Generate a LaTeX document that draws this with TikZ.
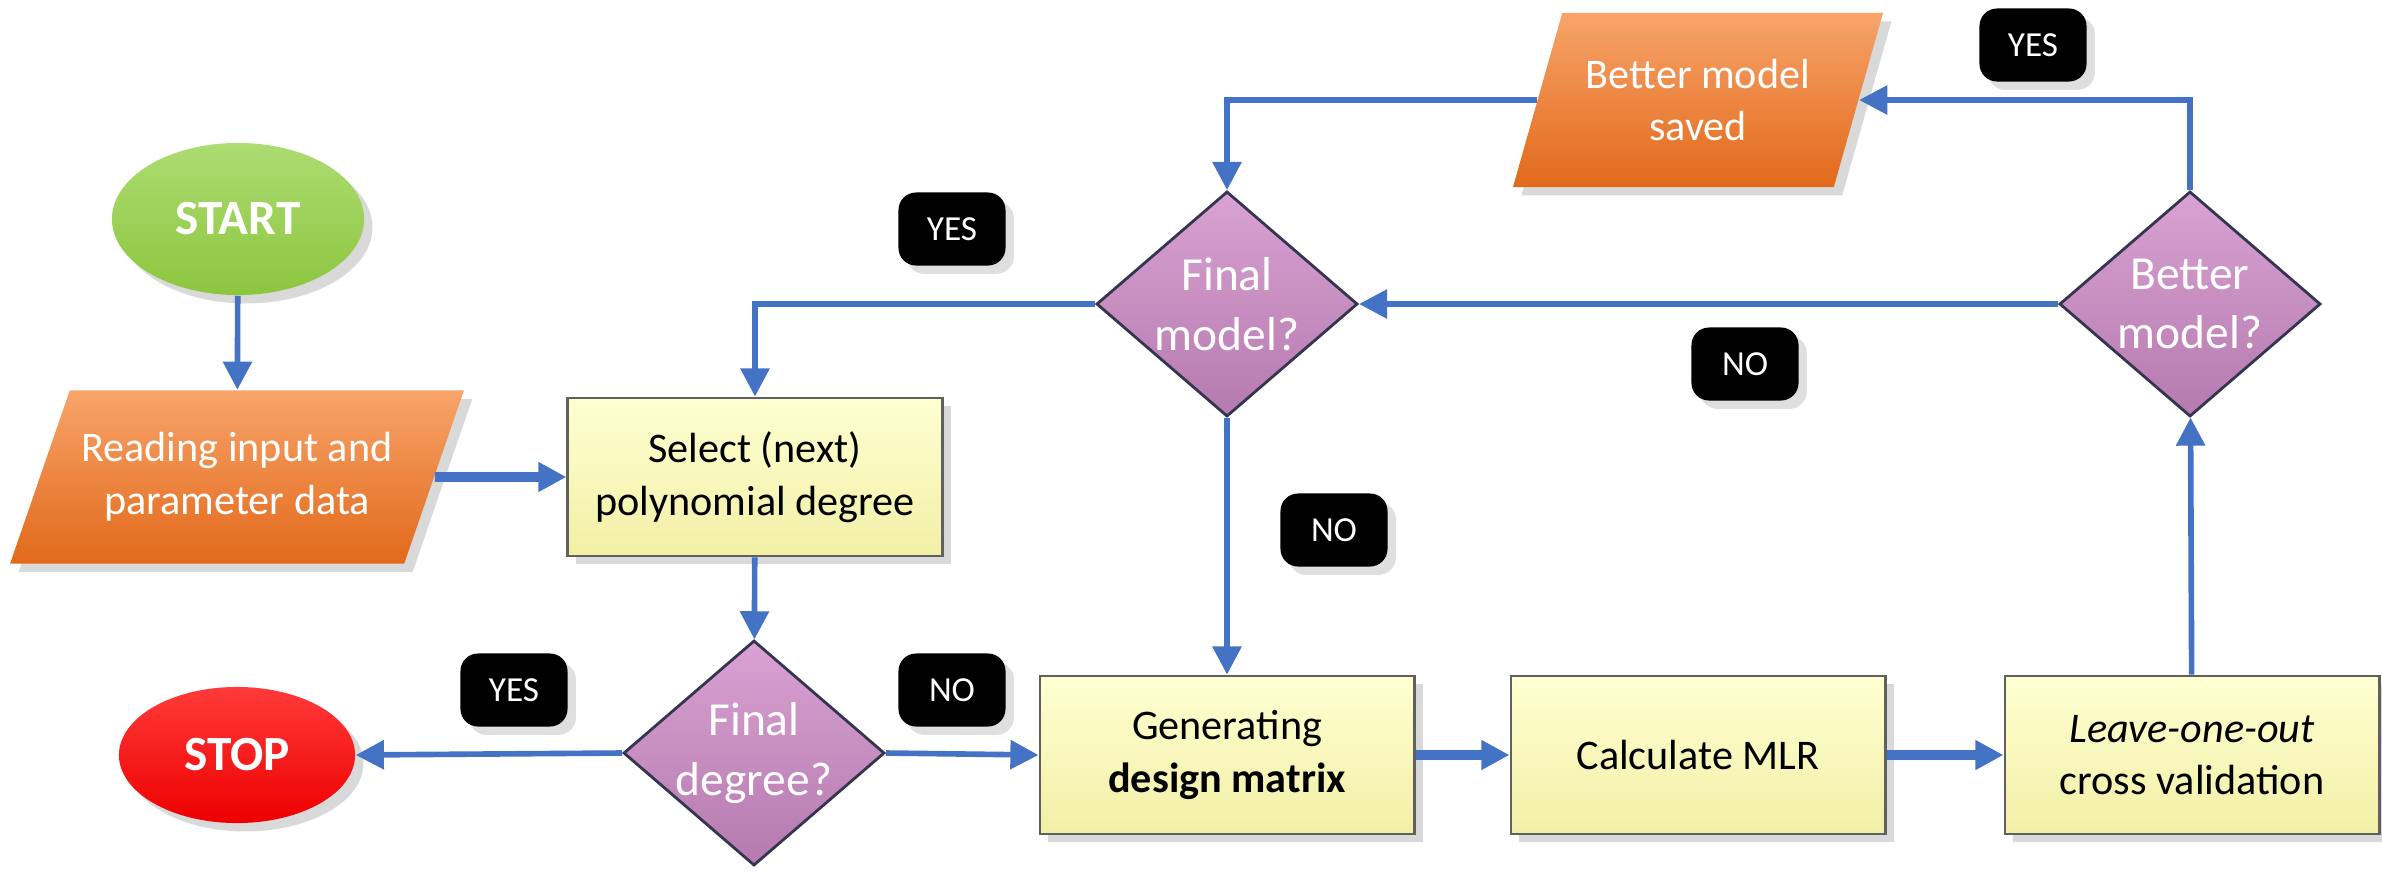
\documentclass[tikz,border=0pt]{standalone}
\usepackage{fontspec}
\setmainfont{Carlito}
\usetikzlibrary{shapes.geometric,arrows.meta,shadows}
\definecolor{arrowblue}{HTML}{4472C4}
\definecolor{boxtop}{HTML}{FFFFD2}
\definecolor{boxbot}{HTML}{F2EFA6}
\definecolor{violtop}{HTML}{D9A2D3}
\definecolor{violbot}{HTML}{B57AAE}
\definecolor{violedge}{HTML}{35354F}
\definecolor{orgtop}{HTML}{F7A46A}
\definecolor{orgbot}{HTML}{E2691A}
\definecolor{grntop}{HTML}{ADDC72}
\definecolor{grnbot}{HTML}{8CC63F}
\definecolor{redtop}{HTML}{FF3A3A}
\definecolor{redbot}{HTML}{EE0000}
\begin{document}
\begin{tikzpicture}[x=0.01cm, y=-0.01cm,
  every node/.style={font=\fontsize{12}{15}\selectfont, align=center},
  flow/.style={draw=arrowblue, line width=1.6pt, -{Triangle[length=8pt,width=8pt]}},
  thickflow/.style={flow, line width=2.8pt},
  procbox/.style={rectangle, draw=gray!75!black, line width=0.8pt, top color=boxtop, bottom color=boxbot,
    minimum width=3.74cm, minimum height=1.58cm, drop shadow={opacity=0.3}},
  decision/.style={diamond, draw=violedge, line width=0.8pt, top color=violtop, bottom color=violbot,
    text=white, font=\fontsize{13.5}{17}\selectfont, inner sep=-6pt, minimum width=2.61cm, minimum height=2.25cm},
  iobox/.style={trapezium, trapezium stretches=true, top color=orgtop, bottom color=orgbot, text=white,
    drop shadow={opacity=0.3}},
  terminal/.style={ellipse, text=white, font=\fontsize{14}{16}\selectfont\bfseries, drop shadow={opacity=0.3}},
  tag/.style={fill=black, rounded corners=5pt, text=white, font=\fontsize{10}{12}\selectfont,
    minimum width=1.07cm, minimum height=0.73cm, drop shadow={opacity=0.25}}
]
\useasboundingbox (0,0) rectangle (2382,872);
% Start / Stop
\node[terminal, top color=grntop, bottom color=grnbot, minimum width=2.52cm, minimum height=1.52cm] (start) at (238,219) {START};
\node[terminal, top color=redtop, bottom color=redbot, minimum width=2.36cm, minimum height=1.36cm] (stop) at (237,755) {STOP};
% Input / output
\node[iobox, trapezium left angle=62, trapezium right angle=118, minimum width=4.54cm, minimum height=1.73cm] (read) at (237,477) {Reading input and\\parameter data};
\node[iobox, trapezium left angle=67, trapezium right angle=113, minimum width=3.71cm, minimum height=1.74cm] (saved) at (1698,100) {Better model\\saved};
% Process boxes
\node[procbox] (select) at (755,477) {Select (next)\\polynomial degree};
\node[procbox] (gen) at (1227,755) {Generating\\\textbf{design matrix}};
\node[procbox] (calc) at (1698,755) {Calculate MLR};
\node[procbox] (loo) at (2192,755) {\textit{Leave-one-out}\\cross validation};
% Decisions
\node[decision] (degree) at (754,753) {Final\\degree?};
\node[decision] (final) at (1227,304) {Final\\model?};
\node[decision] (better) at (2190,304) {Better\\model?};
% Answers
\node[tag] (yesstop) at (514,690) {YES};
\node[tag] (nogen) at (952,690) {NO};
\node[tag] (yesselect) at (952,229) {YES};
\node[tag] (nofinal) at (1334,530) {NO};
\node[tag] (nobetter) at (1745,364) {NO};
\node[tag] (yessaved) at (2033,45) {YES};
% Connectors
\draw[flow] (start) -- (read);
\draw[thickflow] (read.east) -- (select.west);
\draw[flow] (select) -- (degree);
\draw[flow] (degree.west) -- (stop.east);
\draw[flow] (degree.east) -- (gen.west);
\draw[thickflow] (gen) -- (calc);
\draw[thickflow] (calc) -- (loo);
\draw[flow] (loo) -- (better);
\draw[flow] (better.north) |- (saved.east);
\draw[flow] (saved.west) -| (final.north);
\draw[flow] (better.west) -- (final.east);
\draw[flow] (final.west) -| (select.north);
\draw[flow] (final.south) -- (gen.north);
\end{tikzpicture}
\end{document}
